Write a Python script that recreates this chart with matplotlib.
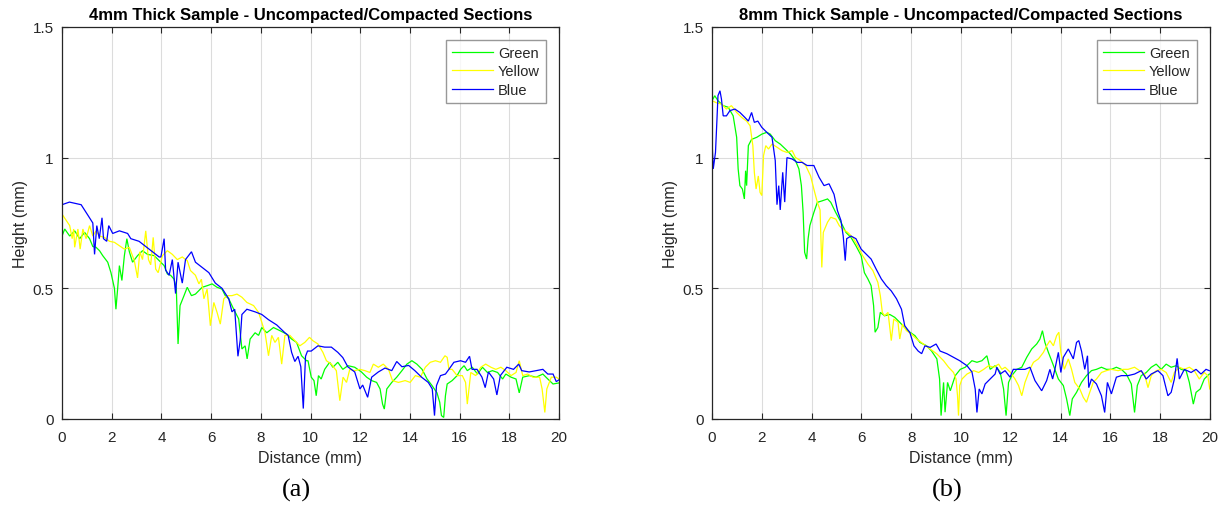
import matplotlib
matplotlib.use("Agg")
import matplotlib.pyplot as plt

plt.rcParams["font.family"] = ["Liberation Sans", "DejaVu Sans"]

# ---- 4 mm sample profiles (distance mm, height mm) ----
g4_x = [0, 0.11, 0.31, 0.51, 0.71, 0.91, 1.11, 1.24, 1.37, 1.51, 1.64, 1.84, 1.97, 2.11, 2.17, 2.24,
        2.31, 2.41, 2.51, 2.61, 2.71, 2.84, 3.04, 3.24, 3.44, 3.71, 3.91, 4.11, 4.24, 4.37, 4.51, 4.6,
        4.67, 4.75, 4.91, 5.04, 5.21, 5.37, 5.64, 5.84, 6.04, 6.24, 6.44, 6.57, 6.71, 6.91, 7.11, 7.24,
        7.37, 7.45, 7.57, 7.77, 7.91, 8.04, 8.24, 8.51, 8.77, 9.04, 9.24, 9.44, 9.64, 9.84, 9.9, 10.03,
        10.14, 10.23, 10.32, 10.43, 10.57, 10.77, 10.9, 11.1, 11.3, 11.51, 11.78, 12.05, 12.26, 12.46,
        12.66, 12.8, 12.9, 12.97, 13.07, 13.27, 13.47, 13.68, 13.88, 14.08, 14.28, 14.49, 14.69, 14.89,
        15.09, 15.2, 15.27, 15.36, 15.43, 15.5, 15.7, 15.9, 16.04, 16.18, 16.31, 16.51, 16.72, 16.92,
        17.12, 17.32, 17.53, 17.73, 17.86, 18.07, 18.27, 18.4, 18.54, 18.81, 19.08, 19.35, 19.55,
        19.76, 20.0]
g4_y = [0.70, 0.727, 0.70, 0.72, 0.69, 0.714, 0.69, 0.66, 0.657, 0.644, 0.625, 0.60, 0.56, 0.50, 0.42,
        0.50, 0.587, 0.53, 0.625, 0.69, 0.64, 0.60, 0.625, 0.644, 0.63, 0.625, 0.606, 0.587, 0.555, 0.55,
        0.535, 0.50, 0.287, 0.434, 0.472, 0.504, 0.472, 0.478, 0.504, 0.51, 0.517, 0.504, 0.497, 0.472,
        0.46, 0.42, 0.383, 0.268, 0.28, 0.23, 0.306, 0.33, 0.32, 0.35, 0.33, 0.35, 0.338, 0.325, 0.306,
        0.293, 0.242, 0.223, 0.223, 0.16, 0.147, 0.089, 0.166, 0.153, 0.19, 0.217, 0.198, 0.217, 0.19,
        0.204, 0.198, 0.18, 0.16, 0.147, 0.14, 0.115, 0.057, 0.038, 0.115, 0.14, 0.16, 0.185, 0.21,
        0.223, 0.21, 0.19, 0.153, 0.128, 0.10, 0.064, 0.013, 0.006, 0.089, 0.134, 0.147, 0.166, 0.19,
        0.204, 0.185, 0.198, 0.172, 0.198, 0.178, 0.185, 0.178, 0.153, 0.172, 0.16, 0.153, 0.10, 0.16,
        0.166, 0.16, 0.172, 0.153, 0.134, 0.138]

y4_x = [0, 0.17, 0.31, 0.41, 0.47, 0.51, 0.64, 0.73, 0.84, 0.97, 1.11, 1.24, 1.37, 1.51, 1.71, 1.91,
        2.11, 2.31, 2.51, 2.71, 2.91, 3.04, 3.13, 3.24, 3.37, 3.48, 3.57, 3.67, 3.77, 3.87, 4.04, 4.24,
        4.44, 4.64, 4.84, 5.04, 5.17, 5.37, 5.51, 5.61, 5.71, 5.84, 5.97, 6.11, 6.24, 6.37, 6.51, 6.64,
        6.84, 7.04, 7.24, 7.44, 7.71, 7.91, 8.04, 8.17, 8.31, 8.44, 8.57, 8.71, 8.84, 8.97, 9.17, 9.37,
        9.57, 9.77, 9.96, 10.09, 10.3, 10.5, 10.64, 10.84, 11.04, 11.18, 11.31, 11.45, 11.58, 11.78,
        11.99, 12.19, 12.39, 12.53, 12.73, 12.93, 13.14, 13.3, 13.54, 13.81, 14.01, 14.22, 14.42, 14.62,
        14.82, 15.03, 15.23, 15.41, 15.5, 15.57, 15.7, 15.9, 16.11, 16.24, 16.31, 16.45, 16.65, 16.85,
        17.05, 17.26, 17.46, 17.66, 17.86, 18.07, 18.27, 18.4, 18.54, 18.74, 18.95, 19.22, 19.32, 19.43,
        19.51, 19.69, 19.89, 20.0]
y4_y = [0.784, 0.76, 0.74, 0.69, 0.727, 0.657, 0.727, 0.65, 0.727, 0.69, 0.74, 0.70, 0.72, 0.70, 0.695,
        0.68, 0.676, 0.663, 0.65, 0.657, 0.606, 0.54, 0.64, 0.61, 0.72, 0.61, 0.59, 0.695, 0.574, 0.56,
        0.625, 0.644, 0.63, 0.61, 0.62, 0.606, 0.568, 0.55, 0.517, 0.535, 0.46, 0.497, 0.357, 0.446,
        0.408, 0.363, 0.46, 0.472, 0.472, 0.478, 0.466, 0.446, 0.434, 0.408, 0.37, 0.33, 0.242, 0.32,
        0.293, 0.3125, 0.21, 0.32, 0.32, 0.30, 0.28, 0.293, 0.3125, 0.30, 0.287, 0.255, 0.223, 0.21,
        0.185, 0.07, 0.16, 0.14, 0.19, 0.185, 0.19, 0.185, 0.178, 0.21, 0.198, 0.21, 0.19, 0.147, 0.14,
        0.147, 0.14, 0.166, 0.16, 0.198, 0.217, 0.223, 0.217, 0.242, 0.236, 0.19, 0.19, 0.166, 0.166,
        0.14, 0.057, 0.178, 0.166, 0.198, 0.21, 0.198, 0.19, 0.198, 0.185, 0.166, 0.178, 0.223, 0.166,
        0.172, 0.16, 0.16, 0.115, 0.025, 0.115, 0.16, 0.16, 0.153]

b4_x = [0, 0.3, 0.77, 1.04, 1.24, 1.31, 1.4, 1.5, 1.61, 1.67, 1.8, 1.88, 2.04, 2.31, 2.64, 2.77, 3.1,
        3.37, 3.64, 3.91, 3.98, 4.11, 4.17, 4.31, 4.44, 4.57, 4.67, 4.84, 4.97, 5.21, 5.37, 5.64, 5.91,
        6.17, 6.44, 6.71, 6.84, 6.95, 7.08, 7.17, 7.24, 7.44, 7.77, 8.04, 8.31, 8.64, 8.97, 9.1, 9.24,
        9.37, 9.5, 9.61, 9.71, 9.8, 9.88, 10.03, 10.3, 10.57, 10.84, 11.1, 11.3, 11.5, 11.78, 11.99, 12.1,
        12.3, 12.46, 12.73, 13.0, 13.27, 13.47, 13.68, 13.95, 14.2, 14.47, 14.74, 14.9, 14.99, 15.07,
        15.23, 15.43, 15.57, 15.77, 16.04, 16.24, 16.4, 16.5, 16.7, 16.9, 17.03, 17.16, 17.37, 17.5,
        17.64, 17.9, 18.17, 18.38, 18.5, 18.8, 19.08, 19.35, 19.55, 19.76, 19.89, 20.0]
b4_y = [0.82, 0.83, 0.82, 0.78, 0.75, 0.63, 0.74, 0.69, 0.77, 0.69, 0.68, 0.74, 0.71, 0.72, 0.71, 0.69,
        0.68, 0.66, 0.64, 0.62, 0.62, 0.69, 0.57, 0.55, 0.61, 0.48, 0.60, 0.52, 0.61, 0.64, 0.60, 0.58,
        0.56, 0.52, 0.50, 0.46, 0.41, 0.42, 0.24, 0.30, 0.40, 0.42, 0.41, 0.40, 0.38, 0.36, 0.33, 0.32,
        0.255, 0.22, 0.24, 0.20, 0.04, 0.24, 0.26, 0.26, 0.28, 0.275, 0.275, 0.255, 0.235, 0.20, 0.18,
        0.115, 0.13, 0.083, 0.16, 0.18, 0.195, 0.185, 0.22, 0.20, 0.205, 0.185, 0.16, 0.14, 0.115, 0.013,
        0.128, 0.166, 0.172, 0.19, 0.217, 0.223, 0.217, 0.24, 0.19, 0.19, 0.16, 0.12, 0.18, 0.153, 0.092,
        0.166, 0.198, 0.19, 0.21, 0.185, 0.18, 0.185, 0.19, 0.172, 0.172, 0.143, 0.15]

# ---- 8 mm sample profiles ----
g8_x = [0, 0.11, 0.24, 0.45, 0.65, 0.85, 0.99, 1.05, 1.12, 1.22, 1.3, 1.35, 1.39, 1.46, 1.59, 1.8, 2.0,
        2.2, 2.34, 2.54, 2.74, 2.95, 3.15, 3.35, 3.49, 3.59, 3.66, 3.72, 3.8, 3.86, 3.93, 4.09, 4.23, 4.43,
        4.64, 4.77, 4.97, 5.18, 5.38, 5.58, 5.78, 5.99, 6.12, 6.26, 6.39, 6.49, 6.55, 6.66, 6.76, 6.93,
        7.14, 7.34, 7.54, 7.74, 7.95, 8.15, 8.35, 8.62, 8.82, 9.03, 9.14, 9.2, 9.3, 9.36, 9.46, 9.57, 9.77,
        9.97, 10.17, 10.44, 10.64, 10.84, 11.04, 11.17, 11.37, 11.57, 11.71, 11.81, 11.91, 12.04, 12.24,
        12.44, 12.64, 12.84, 13.04, 13.17, 13.27, 13.37, 13.51, 13.64, 13.77, 13.91, 14.11, 14.24, 14.37,
        14.47, 14.64, 14.84, 15.04, 15.24, 15.44, 15.64, 15.84, 16.04, 16.24, 16.44, 16.64, 16.84, 16.97,
        17.08, 17.24, 17.44, 17.64, 17.84, 18.04, 18.24, 18.44, 18.64, 18.84, 19.04, 19.17, 19.33, 19.44,
        19.61, 19.77, 19.97]
g8_y = [1.218, 1.237, 1.218, 1.199, 1.193, 1.16, 1.078, 0.957, 0.893, 0.88, 0.842, 0.95, 0.893, 1.046,
        1.07, 1.078, 1.09, 1.097, 1.09, 1.065, 1.052, 1.033, 1.014, 0.989, 0.957, 0.893, 0.79, 0.638,
        0.612, 0.69, 0.74, 0.79, 0.829, 0.835, 0.842, 0.829, 0.79, 0.753, 0.714, 0.695, 0.663, 0.625,
        0.56, 0.536, 0.51, 0.434, 0.332, 0.35, 0.408, 0.395, 0.40, 0.389, 0.37, 0.35, 0.332, 0.319, 0.293,
        0.28, 0.26, 0.23, 0.153, 0.013, 0.14, 0.026, 0.14, 0.108, 0.166, 0.19, 0.198, 0.223, 0.217, 0.223,
        0.242, 0.19, 0.204, 0.18, 0.115, 0.013, 0.14, 0.166, 0.19, 0.198, 0.236, 0.268, 0.287, 0.306,
        0.338, 0.293, 0.255, 0.223, 0.19, 0.153, 0.128, 0.077, 0.013, 0.077, 0.102, 0.14, 0.166, 0.185,
        0.19, 0.198, 0.19, 0.19, 0.198, 0.19, 0.172, 0.134, 0.025, 0.128, 0.166, 0.178, 0.198, 0.21, 0.19,
        0.21, 0.198, 0.204, 0.19, 0.185, 0.14, 0.057, 0.102, 0.115, 0.153, 0.172]

y8_x = [0, 0.18, 0.38, 0.58, 0.78, 0.99, 1.19, 1.39, 1.53, 1.64, 1.7, 1.77, 1.86, 1.93, 2.0, 2.07, 2.16,
        2.27, 2.41, 2.61, 2.81, 3.01, 3.22, 3.35, 3.55, 3.76, 3.96, 4.09, 4.23, 4.34, 4.41, 4.47, 4.64,
        4.77, 4.97, 5.11, 5.24, 5.45, 5.65, 5.85, 6.05, 6.26, 6.46, 6.66, 6.76, 6.84, 6.93, 7.07, 7.2, 7.3,
        7.47, 7.54, 7.65, 7.81, 8.01, 8.22, 8.49, 8.76, 9.03, 9.3, 9.5, 9.7, 9.8, 9.86, 9.9, 9.95, 10.04,
        10.24, 10.51, 10.71, 10.91, 11.11, 11.31, 11.51, 11.64, 11.77, 11.97, 12.17, 12.31, 12.44, 12.57,
        12.77, 12.91, 13.11, 13.31, 13.44, 13.57, 13.71, 13.84, 13.93, 14.01, 14.15, 14.31, 14.44, 14.57,
        14.77, 14.91, 15.04, 15.17, 15.31, 15.44, 15.64, 15.84, 16.04, 16.31, 16.51, 16.71, 16.97, 17.17,
        17.37, 17.51, 17.64, 17.84, 18.04, 18.24, 18.44, 18.57, 18.77, 18.97, 19.17, 19.37, 19.57, 19.77,
        19.91, 19.99]
y8_y = [1.218, 1.21, 1.205, 1.186, 1.199, 1.173, 1.154, 1.14, 1.122, 1.046, 0.944, 0.88, 0.93, 0.867,
        0.855, 1.008, 1.046, 1.033, 1.052, 1.04, 1.027, 1.02, 1.027, 1.001, 0.989, 0.97, 0.93, 0.88,
        0.829, 0.80, 0.58, 0.714, 0.753, 0.772, 0.765, 0.74, 0.727, 0.714, 0.695, 0.663, 0.625, 0.593,
        0.568, 0.523, 0.472, 0.408, 0.395, 0.408, 0.30, 0.383, 0.37, 0.306, 0.363, 0.338, 0.325, 0.306,
        0.287, 0.268, 0.249, 0.223, 0.198, 0.178, 0.153, 0.089, 0.013, 0.128, 0.153, 0.172, 0.185, 0.178,
        0.19, 0.204, 0.198, 0.21, 0.19, 0.198, 0.18, 0.153, 0.128, 0.089, 0.14, 0.19, 0.217, 0.23, 0.255,
        0.28, 0.30, 0.28, 0.319, 0.332, 0.255, 0.19, 0.23, 0.19, 0.14, 0.115, 0.083, 0.064, 0.102, 0.14,
        0.153, 0.178, 0.185, 0.19, 0.185, 0.19, 0.19, 0.198, 0.185, 0.172, 0.12, 0.166, 0.185, 0.19, 0.178,
        0.14, 0.178, 0.198, 0.19, 0.198, 0.185, 0.153, 0.178, 0.166, 0.115]

b8_x = [0, 0.01, 0.05, 0.14, 0.2, 0.24, 0.32, 0.38, 0.45, 0.58, 0.72, 0.92, 1.12, 1.32, 1.46, 1.59, 1.7,
        1.84, 2.0, 2.2, 2.41, 2.54, 2.61, 2.68, 2.74, 2.84, 2.92, 3.01, 3.22, 3.42, 3.62, 3.82, 4.09, 4.3,
        4.5, 4.7, 4.9, 5.04, 5.18, 5.27, 5.35, 5.41, 5.58, 5.78, 5.99, 6.19, 6.39, 6.59, 6.8, 7.0, 7.2,
        7.41, 7.61, 7.74, 7.95, 8.11, 8.28, 8.42, 8.55, 8.76, 9.0, 9.16, 9.43, 9.7, 9.95, 10.04, 10.24,
        10.44, 10.57, 10.64, 10.73, 10.84, 10.97, 11.17, 11.37, 11.44, 11.57, 11.77, 11.97, 12.1, 12.31,
        12.57, 12.77, 12.97, 13.24, 13.44, 13.57, 13.68, 13.77, 13.91, 14.01, 14.11, 14.31, 14.51, 14.64,
        14.73, 14.84, 14.97, 15.08, 15.13, 15.24, 15.44, 15.64, 15.77, 15.88, 16.04, 16.24, 16.44, 16.71,
        16.97, 17.24, 17.44, 17.64, 17.91, 18.11, 18.31, 18.44, 18.57, 18.68, 18.77, 18.97, 19.24, 19.44,
        19.64, 19.84, 19.97]
b8_y = [1.21, 1.046, 0.957, 1.02, 1.148, 1.237, 1.256, 1.224, 1.16, 1.16, 1.18, 1.186, 1.173, 1.154,
        1.14, 1.173, 1.135, 1.14, 1.116, 1.097, 1.078, 0.989, 0.82, 0.893, 0.80, 0.944, 0.83, 1.0, 0.995,
        0.982, 0.982, 0.97, 0.97, 0.925, 0.893, 0.90, 0.86, 0.797, 0.759, 0.70, 0.606, 0.69, 0.70, 0.69,
        0.65, 0.631, 0.612, 0.574, 0.536, 0.51, 0.49, 0.46, 0.42, 0.357, 0.33, 0.28, 0.26, 0.25, 0.28,
        0.274, 0.287, 0.26, 0.25, 0.236, 0.223, 0.217, 0.204, 0.18, 0.115, 0.025, 0.115, 0.096, 0.134,
        0.153, 0.172, 0.198, 0.172, 0.185, 0.16, 0.19, 0.19, 0.19, 0.198, 0.147, 0.108, 0.147, 0.19, 0.153,
        0.19, 0.255, 0.178, 0.236, 0.268, 0.23, 0.293, 0.30, 0.26, 0.19, 0.242, 0.12, 0.153, 0.134, 0.089,
        0.025, 0.14, 0.096, 0.16, 0.166, 0.166, 0.172, 0.185, 0.153, 0.172, 0.185, 0.166, 0.089, 0.102,
        0.153, 0.232, 0.153, 0.19, 0.178, 0.19, 0.172, 0.19, 0.185]

series_names = ["Green", "Yellow", "Blue"]
series_colors = ["#00ff00", "#ffff00", "#0000ff"]
panel_titles = ["4mm Thick Sample - Uncompacted/Compacted Sections",
                "8mm Thick Sample - Uncompacted/Compacted Sections"]
panel_tags = ["(a)", "(b)"]
x_ticks = [0, 2, 4, 6, 8, 10, 12, 14, 16, 18, 20]
y_ticks = [0, 0.5, 1, 1.5]
y_ticklabels = ["0", "0.5", "1", "1.5"]

panels = [
    [(g4_x, g4_y), (y4_x, y4_y), (b4_x, b4_y)],
    [(g8_x, g8_y), (y8_x, y8_y), (b8_x, b8_y)],
]

W, H = 1222, 510
fig = plt.figure(figsize=(W / 100, H / 100), dpi=100)
fig.patch.set_facecolor("white")

ink = "#262626"
axes_px = [(62, 497), (712, 498)]   # left edge, width in pixels
top_px, bottom_px = 28, 420

for k, (left, width) in enumerate(axes_px):
    ax = fig.add_axes([left / W, (H - bottom_px) / H, width / W, (bottom_px - top_px) / H])
    for (xs, ys), name, col in zip(panels[k], series_names, series_colors):
        ax.plot(xs, ys, color=col, lw=0.9, label=name, solid_joinstyle="miter")
    ax.set_xlim(0, 20)
    ax.set_ylim(0, 1.5)
    ax.set_xticks(x_ticks)
    ax.set_xticklabels([str(t) for t in x_ticks])
    ax.set_yticks(y_ticks)
    ax.set_yticklabels(y_ticklabels)
    ax.grid(True, color="#dcdcdc", lw=0.8)
    ax.set_axisbelow(True)
    ax.tick_params(direction="in", length=4.5, width=0.8, colors=ink, labelsize=11,
                   top=True, right=True)
    ax.tick_params(axis="x", pad=8)
    ax.tick_params(axis="y", pad=6)
    for s in ax.spines.values():
        s.set_color(ink)
        s.set_linewidth(0.9)
    ax.set_title(panel_titles[k], fontsize=12, fontweight="bold", color="black", pad=6)
    ax.set_xlabel("Distance (mm)", fontsize=11.5, color=ink, labelpad=4)
    ax.set_ylabel("Height (mm)", fontsize=11.5, color=ink, labelpad=3)
    leg = ax.legend(loc="upper right", fontsize=10.5, frameon=True, fancybox=False,
                    handlelength=2.8, handletextpad=0.35, borderpad=0.4, labelspacing=0.3,
                    borderaxespad=0.9)
    leg.get_frame().set_edgecolor("#7f7f7f")
    leg.get_frame().set_linewidth(1.0)
    for t in leg.get_texts():
        t.set_color(ink)
    fig.text((left + width / 2 - 14) / W, 1 - 490 / H, panel_tags[k],
             family=["Liberation Serif", "DejaVu Serif"], fontsize=19,
             ha="center", va="center", color="black")

fig.savefig("out.png", dpi=100, facecolor="white")
